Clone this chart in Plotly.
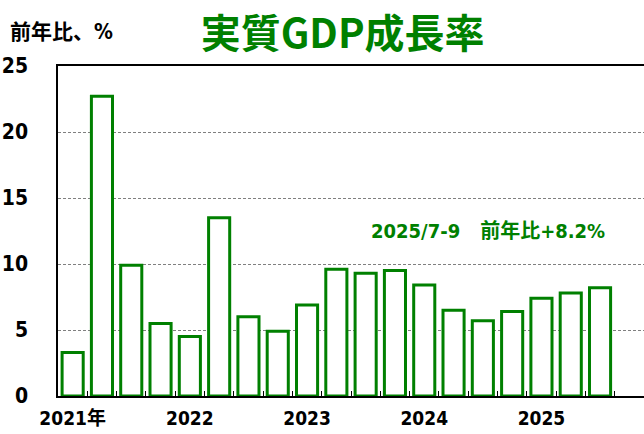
import plotly.graph_objects as go

# 四半期（2021年1-3月〜2025年7-9月）
quarters = list(range(19))
growth = [3.3, 22.7, 9.9, 5.5, 4.5, 13.5, 6.0, 4.9, 6.9, 9.6, 9.3, 9.5,
          8.4, 6.5, 5.7, 6.4, 7.4, 7.8, 8.2]
year_pos = [0, 4, 8, 12, 16]
year_labels = ['2021年', '2022', '2023', '2024', '2025']
y_ticks = [0, 5, 10, 15, 20, 25]

GREEN = 'rgb(0,128,0)'
FONT = '"DejaVu Sans Condensed", "Noto Sans CJK JP", sans-serif'

fig = go.Figure(go.Bar(
    x=quarters,
    y=growth,
    width=0.72,
    marker=dict(color='white', line=dict(color=GREEN, width=3)),
))

fig.update_layout(
    width=644, height=434,
    margin=dict(l=58, r=0, t=66, b=38, autoexpand=False),
    plot_bgcolor='white',
    paper_bgcolor='white',
    showlegend=False,
    font=dict(family=FONT, color='black'),
    title=dict(text='<b>実質GDP成長率</b>', x=0.532, xanchor='center',
               y=0.922, yanchor='middle',
               font=dict(size=40, color=GREEN, family='"Noto Sans CJK JP", sans-serif')),
)

fig.update_xaxes(
    range=[-0.5, 19.5], automargin=False,
    tickmode='array', tickvals=year_pos, ticktext=[f'<b>{t}</b>' for t in year_labels],
    tickfont=dict(size=19),
    ticks='', showgrid=False, zeroline=False,
    showline=True, linecolor='black', linewidth=1.5, mirror=True,
    minor=dict(tickmode='array', tickvals=[q + 0.5 for q in quarters],
               ticks='inside', ticklen=5, tickcolor='black', showgrid=False),
    ticklabelstandoff=4,
)

fig.update_yaxes(
    range=[0, 25], automargin=False,
    tickmode='array', tickvals=y_ticks, ticktext=[f'<b>{v}</b>' for v in y_ticks],
    tickfont=dict(size=21),
    ticks='', ticklabelstandoff=24,
    showgrid=True, gridcolor='gray', griddash='3px,2px', gridwidth=1,
    zeroline=False,
    showline=True, linecolor='black', linewidth=1.5,
)

fig.add_annotation(
    text='<b>前年比、%</b>', xref='paper', yref='paper',
    x=-0.085, y=1.06, xanchor='left', yanchor='bottom', showarrow=False,
    font=dict(size=21, color='black'),
)

fig.add_annotation(
    text='<b>2025/7-9　前年比+8.2%</b>', xref='paper', yref='y',
    x=0.53, y=12.5, xanchor='left', yanchor='middle', showarrow=False,
    font=dict(size=20, color=GREEN),
)

fig.write_html('out.html', config={'displayModeBar': False},
               post_script="document.body.style.margin='0';")
